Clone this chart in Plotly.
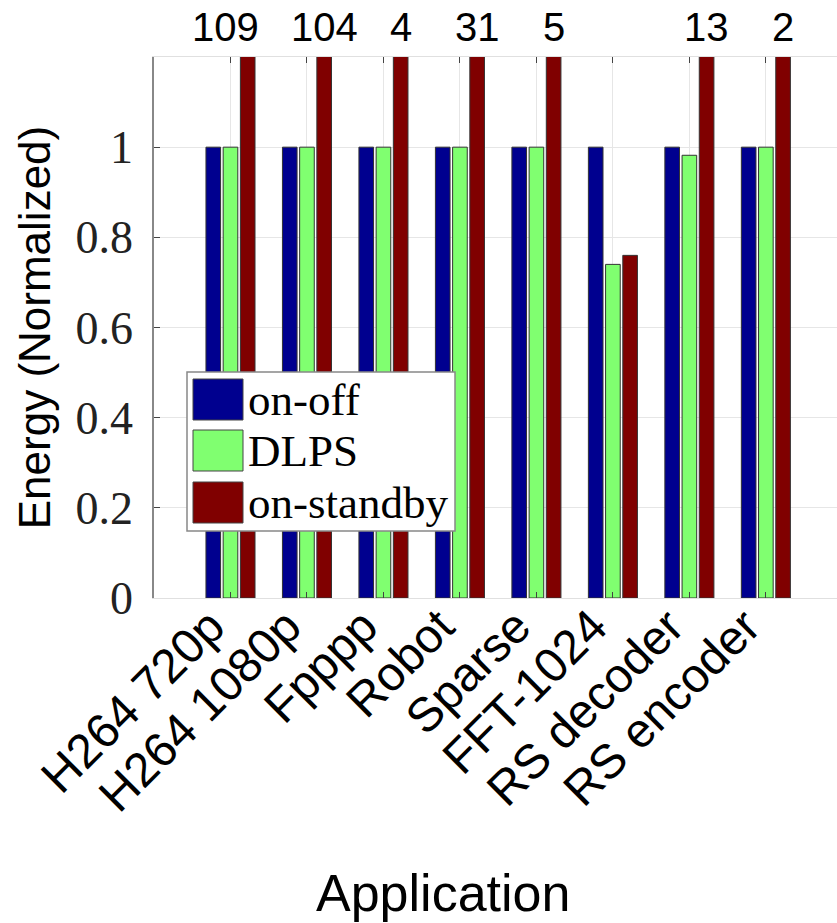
import plotly.graph_objects as go

# ---- data ----
applications = ["H264 720p", "H264 1080p", "Fpppp", "Robot", "Sparse",
                "FFT-1024", "RS decoder", "RS encoder"]
on_off = [1, 1, 1, 1, 1, 1, 1, 1]
dlps = [1, 1, 1, 1, 1, 0.74, 0.982, 1]
on_standby = [109, 104, 4, 31, 5, 0.76, 13, 2]
series_names = ["on-off", "DLPS", "on-standby"]
y_tick_values = [0, 0.2, 0.4, 0.6, 0.8, 1]

# ---- style ----
colors = ["#00008F", "#80FF70", "#800000"]
Y_MAX = 1.2
x_pos = list(range(len(applications)))

fig = go.Figure()
for name, vals, col in zip(series_names, [on_off, dlps, on_standby], colors):
    fig.add_trace(go.Bar(
        x=x_pos, y=vals, name=name, marker_color=col,
        marker_line=dict(color="#333333", width=1), showlegend=False,
    ))

# value labels for clipped on-standby bars
slot = (1 - 0.325) / 3
for i, v in enumerate(on_standby):
    if v > Y_MAX:
        fig.add_annotation(
            x=x_pos[i] + slot, y=1.055, xref="x", yref="paper",
            text=str(int(v)), showarrow=False, yanchor="middle",
            xshift=-22 if i == 0 else 0,
            font=dict(family="Liberation Sans, Arial", size=40, color="black"),
        )

# custom legend (big swatches like the original); pixel coords -> paper
W, H = 683, 541
def px(xp): return (xp - 154) / W
def py(yp): return (598 - yp) / H

fig.add_shape(type="rect", xref="paper", yref="paper",
              x0=px(187), x1=px(455), y0=py(531), y1=py(372),
              fillcolor="white", line=dict(color="#888888", width=1.5), layer="above")
sw_tops = [379, 430, 482]
for name, col, t in zip(series_names, colors, sw_tops):
    fig.add_shape(type="rect", xref="paper", yref="paper",
                  x0=px(193), x1=px(243), y0=py(t + 41), y1=py(t),
                  fillcolor=col, line=dict(color="#444444", width=1), layer="above")
    fig.add_annotation(x=px(246), y=py(t + 20.5), xref="paper", yref="paper",
                       text=name, showarrow=False, xanchor="left", yanchor="middle",
                       font=dict(family="Liberation Serif, Times New Roman", size=45, color="black"))

# x-axis title (placed as in the original, left of the plot-area centre)
fig.add_annotation(x=px(443), y=py(893), xref="paper", yref="paper",
                   text="Application", showarrow=False, xanchor="center", yanchor="middle",
                   font=dict(family="Liberation Sans, Arial", size=52, color="black"))

fig.update_layout(
    width=837, height=923,
    margin=dict(l=154, r=0, t=57, b=325),
    plot_bgcolor="white", paper_bgcolor="white",
    barmode="group", bargap=0.325, bargroupgap=0.15,
    xaxis=dict(
        range=[-1, 7.93], tickmode="array", tickvals=x_pos, ticktext=applications,
        tickangle=-45, tickfont=dict(family="Liberation Sans, Arial", size=48, color="black"),
        ticklabelshift=-20, ticklabelstandoff=-20,
        showgrid=True, gridcolor="#e6e6e6", gridwidth=1,
        ticks="inside", ticklen=6, tickcolor="#444444",
        showline=True, linecolor="#e0e0e0", mirror="ticks", zeroline=False,
    ),
    yaxis=dict(
        range=[0, Y_MAX], tickmode="array", tickvals=y_tick_values,
        ticktext=[("%g" % v) for v in y_tick_values],
        tickfont=dict(family="Liberation Serif, Times New Roman", size=46, color="#222222"),
        showgrid=True, gridcolor="#e6e6e6", gridwidth=1,
        ticks="inside", ticklen=6, tickcolor="#444444",
        showline=True, linecolor="#888888", linewidth=1.5, mirror=False, zeroline=False,
        ticklabelstandoff=10,
        title=dict(text="Energy (Normalized)", standoff=11,
                   font=dict(family="Liberation Sans, Arial", size=44, color="black")),
    ),
)

fig.write_html("out.html", config={"displayModeBar": False},
               post_script="document.body.style.margin='0';")
